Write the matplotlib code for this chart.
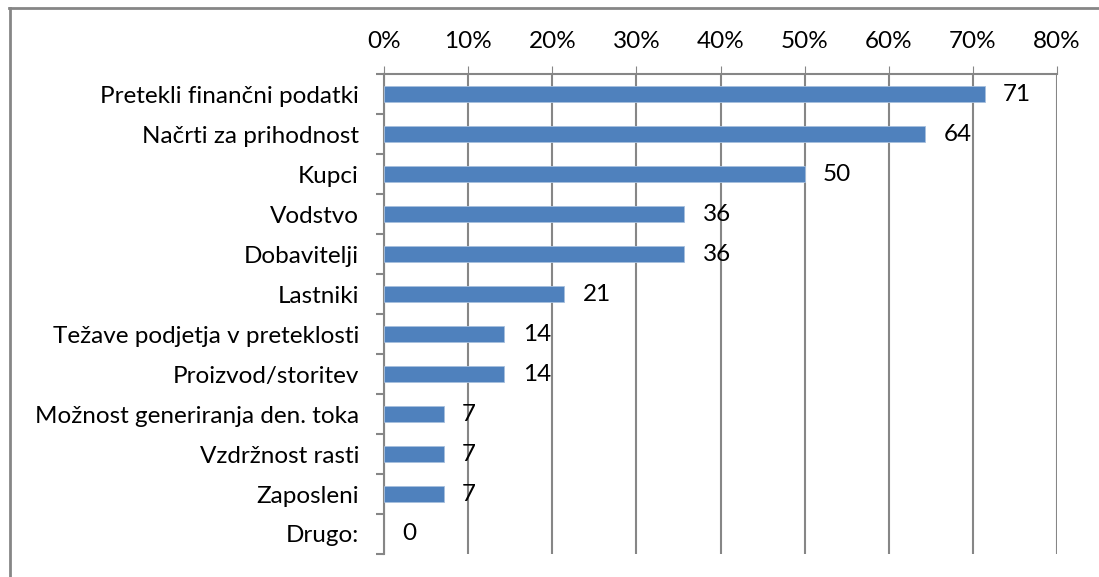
import matplotlib.pyplot as plt
from matplotlib.lines import Line2D

categories = ['Pretekli finančni podatki', 'Načrti za prihodnost', 'Kupci', 'Vodstvo',
              'Dobavitelji', 'Lastniki', 'Težave podjetja v preteklosti', 'Proizvod/storitev',
              'Možnost generiranja den. toka', 'Vzdržnost rasti', 'Zaposleni', 'Drugo:']
values = [71.4, 64.3, 50.0, 35.7, 35.7, 21.4, 14.3, 14.3, 7.1, 7.1, 7.1, 0.0]
xticks = [0, 10, 20, 30, 40, 50, 60, 70, 80]

plt.rcParams['font.family'] = ['Lato', 'DejaVu Sans']
fig = plt.figure(figsize=(10.99, 5.77), dpi=100)
ax = fig.add_axes([384 / 1099, 1 - 554 / 577, 673 / 1099, 480 / 577])

blue = '#4f81bd'
pos = list(range(len(categories)))
edges = ['#a7c0de' if v > 0 else 'none' for v in values]
ax.barh(pos, values, height=0.41, color=blue, edgecolor=edges, linewidth=0.6, zorder=3)
for p, v in zip(pos, values):
    ax.text(v + 2.2, p, f'{round(v):d}', va='center', ha='left', fontsize=17.5, zorder=4)

ax.set_xlim(0, 80)
ax.set_ylim(len(categories) - 0.5, -0.5)
ax.set_xticks(xticks)
ax.set_xticklabels([f'{t}%' for t in xticks], fontsize=17.5)
ax.xaxis.tick_top()
ax.tick_params(axis='x', length=6, color='#868686', pad=10, top=True, bottom=False)
ax.set_yticks(pos)
ax.set_yticklabels(categories, fontsize=17.5)
ax.tick_params(axis='y', length=0, pad=18)
# category separators on the left spine
ax.set_yticks([p + 0.5 for p in [-1] + pos], minor=True)
ax.tick_params(axis='y', which='minor', length=6, color='#868686', width=1.5)
ax.grid(axis='x', color='#868686', linewidth=1.5, zorder=0)
for s in ['right', 'bottom']:
    ax.spines[s].set_visible(False)
ax.spines['top'].set_color('#868686')
ax.spines['top'].set_linewidth(1.5)
ax.spines['left'].set_color('#868686')
ax.spines['left'].set_linewidth(1.5)

# outer chart border
fig.add_artist(Line2D([9 / 1099, 1], [1 - 8 / 577, 1 - 8 / 577], color='#868686', linewidth=2))
fig.add_artist(Line2D([10 / 1099, 10 / 1099], [0, 1 - 8 / 577], color='#868686', linewidth=2))

fig.savefig('out.png', dpi=100)
